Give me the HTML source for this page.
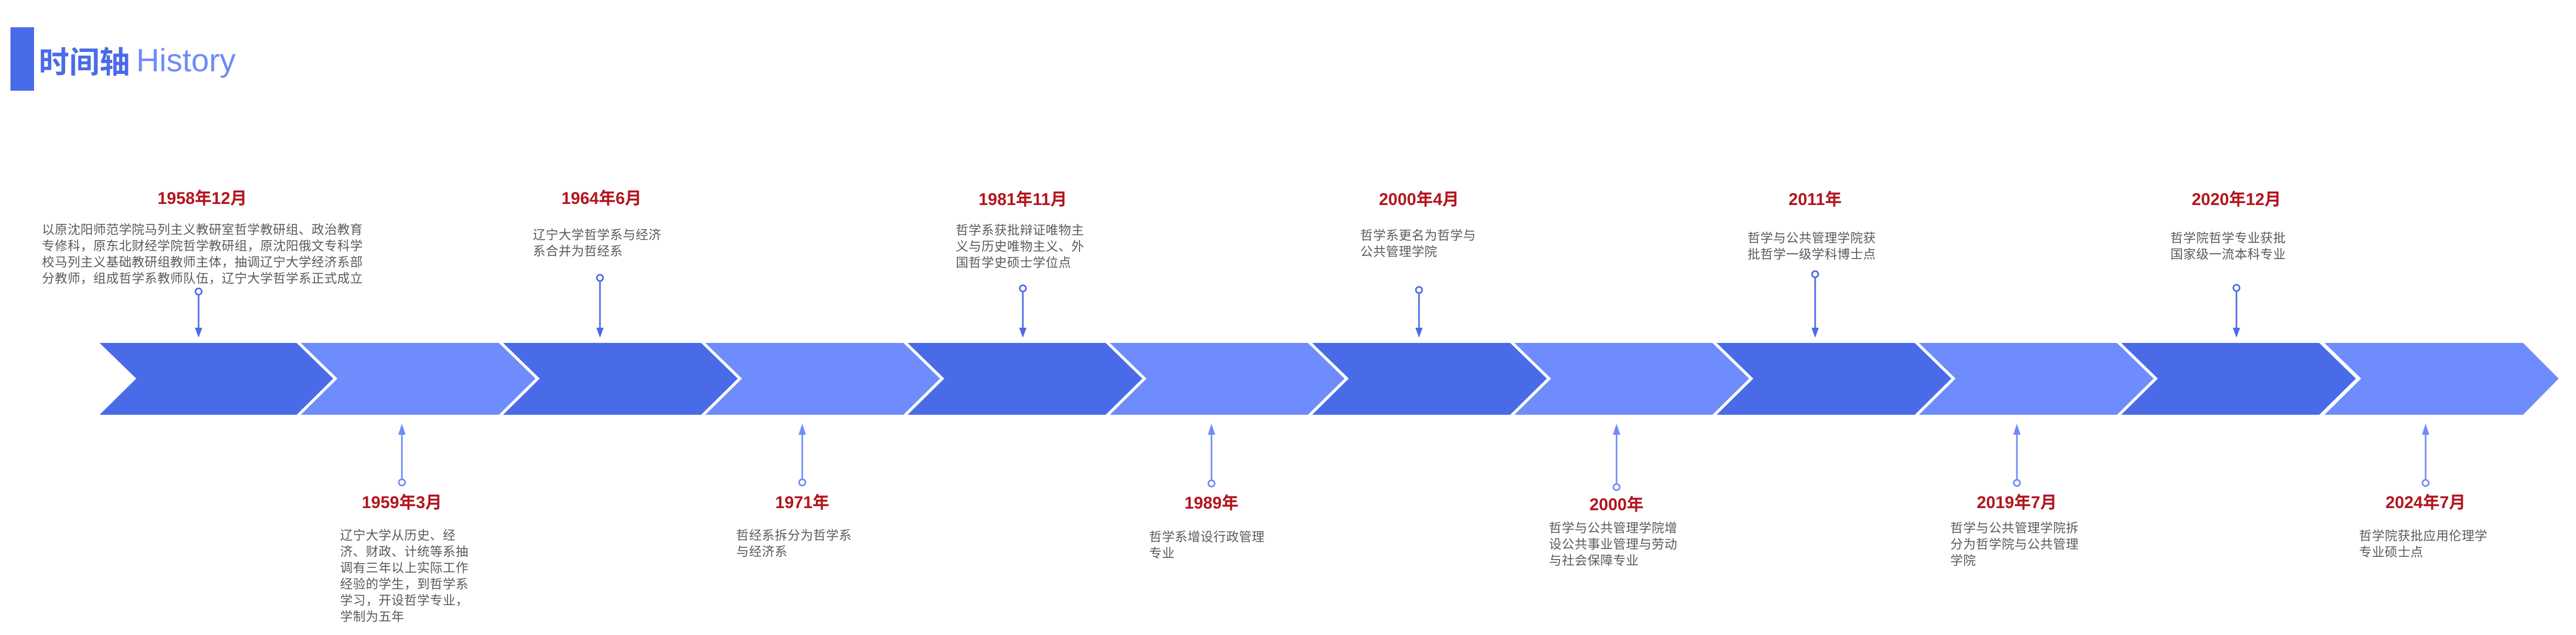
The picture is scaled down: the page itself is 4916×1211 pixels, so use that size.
<!DOCTYPE html>
<html><head><meta charset="utf-8">
<style>
html,body{margin:0;padding:0;background:#fff;}
body{width:4916px;height:1211px;position:relative;overflow:hidden;font-family:"Liberation Sans","Noto Sans CJK SC",sans-serif;}
.t{position:absolute;font-family:"Noto Sans CJK SC","WenQuanYi Zen Hei",sans-serif;font-size:24px;letter-spacing:0.5px;line-height:31px;color:#5a5a5a;white-space:nowrap;}
.d{position:absolute;font-family:"Liberation Sans","Noto Sans CJK SC",sans-serif;font-weight:bold;font-size:32px;color:#b3151e;white-space:nowrap;transform:translateX(-50%);line-height:36px;}
</style></head><body>
<div style="position:absolute;left:20px;top:52px;width:45px;height:121px;background:#4a6be8;"></div>
<div style="position:absolute;left:74px;top:85px;font-size:58px;line-height:58px;white-space:nowrap;font-family:'Noto Sans CJK SC',sans-serif;color:#4a6be8;font-weight:bold;">时间轴</div>
<div style="position:absolute;left:260px;top:85px;font-size:61px;line-height:61px;white-space:nowrap;font-family:'Liberation Sans',sans-serif;color:#6e8cf8;">History</div>

<svg style="position:absolute;left:0;top:0" width="4916" height="1211">
<polygon points="190,654 566,654 636,722 566,791 190,791 260,722" fill="#4a6be8"/>
<polygon points="574,654 952,654 1022,722 952,791 574,791 644,722" fill="#6e8cfb"/>
<polygon points="960,654 1338,654 1408,722 1338,791 960,791 1030,722" fill="#4a6be8"/>
<polygon points="1346,654 1724,654 1794,722 1724,791 1346,791 1416,722" fill="#6e8cfb"/>
<polygon points="1732,654 2110,654 2180,722 2110,791 1732,791 1802,722" fill="#4a6be8"/>
<polygon points="2118,654 2496,654 2566,722 2496,791 2118,791 2188,722" fill="#6e8cfb"/>
<polygon points="2504,654 2882,654 2952,722 2882,791 2504,791 2574,722" fill="#4a6be8"/>
<polygon points="2890,654 3268,654 3338,722 3268,791 2890,791 2960,722" fill="#6e8cfb"/>
<polygon points="3276,654 3654,654 3724,722 3654,791 3276,791 3346,722" fill="#4a6be8"/>
<polygon points="3662,654 4040,654 4110,722 4040,791 3662,791 3732,722" fill="#6e8cfb"/>
<polygon points="4048,654 4426,654 4496,722 4426,791 4048,791 4118,722" fill="#4a6be8"/>
<polygon points="4436,654 4815,654 4883,722 4815,791 4436,791 4506,722" fill="#6e8cfb"/>

<g stroke="#4a6be8" stroke-width="3" fill="#fff">
<line x1="379" y1="562" x2="379" y2="630"/><circle cx="379" cy="556" r="6"/>
<line x1="1145" y1="536" x2="1145" y2="630"/><circle cx="1145" cy="530" r="6"/>
<line x1="1952" y1="556" x2="1952" y2="630"/><circle cx="1952" cy="550" r="6"/>
<line x1="2708" y1="559" x2="2708" y2="630"/><circle cx="2708" cy="553" r="6"/>
<line x1="3464" y1="529" x2="3464" y2="630"/><circle cx="3464" cy="523" r="6"/>
<line x1="4268" y1="555" x2="4268" y2="630"/><circle cx="4268" cy="549" r="6"/>
</g>
<g fill="#4a6be8">
<polygon points="372,625 386,625 379,644"/>
<polygon points="1138,625 1152,625 1145,644"/>
<polygon points="1945,625 1959,625 1952,644"/>
<polygon points="2701,625 2715,625 2708,644"/>
<polygon points="3457,625 3471,625 3464,644"/>
<polygon points="4261,625 4275,625 4268,644"/>
</g>
<g stroke="#6e8cf8" stroke-width="3" fill="#fff">
<line x1="767" y1="824" x2="767" y2="914"/><circle cx="767" cy="920" r="6"/>
<line x1="1531" y1="824" x2="1531" y2="914"/><circle cx="1531" cy="920" r="6"/>
<line x1="2312" y1="824" x2="2312" y2="916"/><circle cx="2312" cy="922" r="6"/>
<line x1="3085" y1="824" x2="3085" y2="923"/><circle cx="3085" cy="929" r="6"/>
<line x1="3849" y1="824" x2="3849" y2="915"/><circle cx="3849" cy="921" r="6"/>
<line x1="4629" y1="824" x2="4629" y2="915"/><circle cx="4629" cy="921" r="6"/>
</g>
<g fill="#6e8cf8">
<polygon points="760,829 774,829 767,808"/>
<polygon points="1524,829 1538,829 1531,808"/>
<polygon points="2305,829 2319,829 2312,808"/>
<polygon points="3078,829 3092,829 3085,808"/>
<polygon points="3842,829 3856,829 3849,808"/>
<polygon points="4622,829 4636,829 4629,808"/>
</g>
</svg>

<div class="d" style="left:386px;top:360px;">1958年12月</div>
<div class="d" style="left:1148px;top:360px;">1964年6月</div>
<div class="d" style="left:1952px;top:362px;">1981年11月</div>
<div class="d" style="left:2708px;top:362px;">2000年4月</div>
<div class="d" style="left:3464px;top:362px;">2011年</div>
<div class="d" style="left:4268px;top:362px;">2020年12月</div>
<div class="d" style="left:767px;top:940px;">1959年3月</div>
<div class="d" style="left:1531px;top:940px;">1971年</div>
<div class="d" style="left:2312px;top:941px;">1989年</div>
<div class="d" style="left:3085px;top:944px;">2000年</div>
<div class="d" style="left:3849px;top:940px;">2019年7月</div>
<div class="d" style="left:4629px;top:940px;">2024年7月</div>

<div class="t" style="left:80px;top:420px;">以原沈阳师范学院马列主义教研室哲学教研组、政治教育<br>专修科，原东北财经学院哲学教研组，原沈阳俄文专科学<br>校马列主义基础教研组教师主体，抽调辽宁大学经济系部<br>分教师，组成哲学系教师队伍，辽宁大学哲学系正式成立</div>
<div class="t" style="left:1017px;top:430px;">辽宁大学哲学系与经济<br>系合并为哲经系</div>
<div class="t" style="left:1824px;top:421px;">哲学系获批辩证唯物主<br>义与历史唯物主义、外<br>国哲学史硕士学位点</div>
<div class="t" style="left:2596px;top:431px;">哲学系更名为哲学与<br>公共管理学院</div>
<div class="t" style="left:3335px;top:436px;">哲学与公共管理学院获<br>批哲学一级学科博士点</div>
<div class="t" style="left:4142px;top:436px;">哲学院哲学专业获批<br>国家级一流本科专业</div>

<div class="t" style="left:649px;top:1003px;">辽宁大学从历史、经<br>济、财政、计统等系抽<br>调有三年以上实际工作<br>经验的学生，到哲学系<br>学习，开设哲学专业，<br>学制为五年</div>
<div class="t" style="left:1405px;top:1003px;">哲经系拆分为哲学系<br>与经济系</div>
<div class="t" style="left:2193px;top:1006px;">哲学系增设行政管理<br>专业</div>
<div class="t" style="left:2956px;top:989px;">哲学与公共管理学院增<br>设公共事业管理与劳动<br>与社会保障专业</div>
<div class="t" style="left:3722px;top:989px;">哲学与公共管理学院拆<br>分为哲学院与公共管理<br>学院</div>
<div class="t" style="left:4502px;top:1004px;">哲学院获批应用伦理学<br>专业硕士点</div>
</body></html>
